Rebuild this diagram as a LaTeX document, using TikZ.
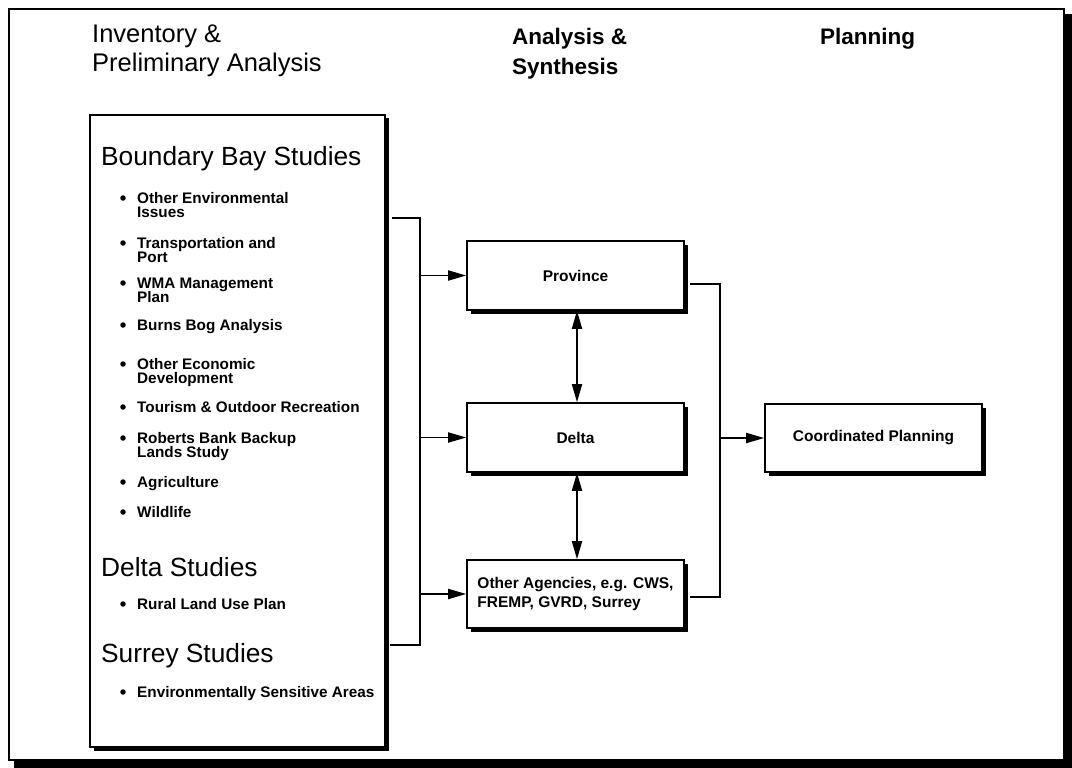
\documentclass[tikz,border=0pt]{standalone}
\usepackage{fontspec}
\setmainfont{Liberation Sans}
\usetikzlibrary{arrows.meta,shadows,calc}
\begin{document}
\begin{tikzpicture}[x=1pt,y=-1pt,
  conn/.style={line width=1.8pt},
  tip/.style={-{Triangle[length=18pt,width=10pt]}},
  dtip/.style={{Triangle[length=18pt,width=10pt]}-{Triangle[length=18pt,width=10pt]}},
  shadowed/.style={drop shadow={shadow xshift=3.5pt, shadow yshift=-3.5pt, opacity=1, fill=black}},
  stagebox/.style={draw, line width=1.6pt, fill=white, minimum width=217pt, minimum height=69pt,
    inner sep=0pt, align=left, font=\fontsize{15.5}{19}\selectfont\bfseries, shadowed},
  hdr/.style={anchor=base west, inner sep=0pt, font=\fontsize{25.5}{30}\selectfont},
  hdrb/.style={anchor=base west, inner sep=0pt, font=\fontsize{22.5}{28}\selectfont\bfseries},
  studyhead/.style={anchor=base west, inner sep=0pt, font=\fontsize{26.3}{30}\selectfont},
  itm/.style={anchor=base west, inner sep=0pt, font=\fontsize{15.3}{15}\selectfont\bfseries},
  bul/.style={circle, fill=black, inner sep=0pt, minimum size=5.5pt}
]
\useasboundingbox (0,0) rectangle (1072,768);
\fill[white] (0,0) rectangle (1072,768);

% outer frame with shadow
\fill[black] (1063,14) rectangle (1072,768);
\fill[black] (14,759) rectangle (1072,768);
\draw[line width=1.6pt] (9,9) rectangle (1064,760);

% column headers
\node[hdr] (h1) at (92,43) {Inventory \&};
\node[hdr] (h2) at (92,72) {Preliminary Analysis};
\node[hdrb] (h3) at (512,45) {Analysis \&};
\node[hdrb] (h4) at (512,75) {Synthesis};
\node[hdrb] (h5) at (820,45) {Planning};

% left studies box
\node[draw, line width=1.6pt, fill=white, minimum width=295pt, minimum height=632pt, inner sep=0pt, shadowed] (L) at (237.5,431) {};

\node[studyhead] (s1) at (101,165) {Boundary Bay Studies};
\node[studyhead] (s2) at (101,576) {Delta Studies};
\node[studyhead] (s3) at (101,662) {Surrey Studies};

\foreach \yy/\la/\lb [count=\k] in {
  198/Other Environmental/Issues,
  243/Transportation and/Port,
  283/WMA Management/Plan,
  325/Burns Bog Analysis/{},
  364/Other Economic/Development,
  407/Tourism \& Outdoor Recreation/{},
  438/Roberts Bank Backup/Lands Study,
  482/Agriculture/{},
  512/Wildlife/{},
  604/Rural Land Use Plan/{},
  692/Environmentally Sensitive Areas/{}}{
  \node[bul] (b\k) at (123,\yy) {};
  \node[itm] (ia\k) at (137,\yy+5.5) {\la};
  \node[itm] (ib\k) at (137,\yy+19.5) {\lb};
}

% synthesis boxes
\node[stagebox] (P) at (575.5,275.5) {Province};
\node[stagebox] (D) at (575.5,437.5) {Delta};
\node[stagebox, minimum height=68pt] (O) at (575.5,594) {Other Agencies, e.g. CWS,\\FREMP, GVRD, Surrey};
\node[stagebox, minimum height=68pt] (C) at (873.5,438) {Coordinated Planning};

% left bracket
\coordinate (lt) at (420,218);
\coordinate (lb) at (420,645);
\draw[conn] ($(L.east |- lt)+(6,0)$) -- (lt) -- (lb) -- ($(L.east |- lb)+(4,0)$);
\draw[conn,tip] (lt |- P.west) -- (P.west);
\draw[conn,tip] (lt |- D.west) -- (D.west);
\draw[conn,tip] (lt |- O.west) -- (O.west);

% vertical double arrows
\draw[conn,dtip] ([xshift=1.5pt]P.south) -- ([xshift=1.5pt]D.north);
\draw[conn,dtip] ([xshift=1.5pt]D.south) -- ([xshift=1.5pt]O.north);

% right bracket
\coordinate (rt) at (720,284);
\coordinate (rb) at (720,597);
\draw[conn] ($(P.east |- rt)+(5,0)$) -- (rt) -- (rb) -- ($(O.east |- rb)+(5,0)$);
\draw[conn,tip] (rt |- C.west) -- (C.west);
\end{tikzpicture}
\end{document}
